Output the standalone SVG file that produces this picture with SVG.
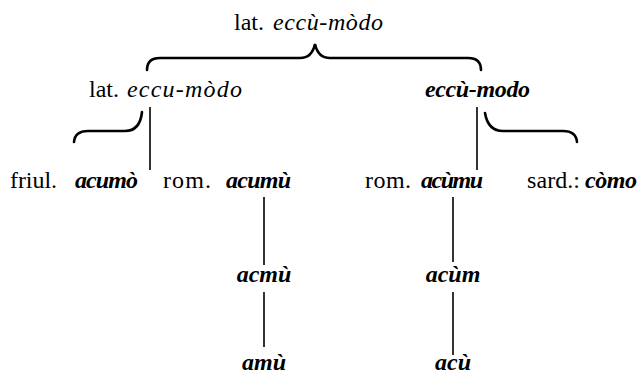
<svg xmlns="http://www.w3.org/2000/svg" width="638" height="376" viewBox="0 0 638 376">
<style>
.t{font-family:"Liberation Serif","Times New Roman",serif;font-size:24px;fill:#000}
.i{font-style:italic;font-weight:bold}
.il{font-style:italic}
.br{fill:none;stroke:#000;stroke-width:2.6;stroke-linecap:round}
.ln{fill:none;stroke:#000;stroke-width:1.6}
</style>
<rect width="638" height="376" fill="#fff"/>
<g id="connectors">
<path class="br" d="M147,70 Q147,58 160,58 L300,58 Q312,58 315,44 Q318,58 330,58 L468,58 Q481,58 481,70"/>
<path class="br" d="M142,112 Q140,131 125,131 L88,131 Q75,131 74,142"/>
<path class="br" d="M485,113 Q488,131 503,131 L563,131 Q576,131 577,142"/>
<line class="ln" x1="150" y1="107" x2="150" y2="170"/>
<line class="ln" x1="477" y1="107" x2="477" y2="170"/>
<line class="ln" x1="264" y1="197" x2="264" y2="265"/>
<line class="ln" x1="264" y1="292" x2="264" y2="347"/>
<line class="ln" x1="453" y1="197" x2="453" y2="262"/>
<line class="ln" x1="453" y1="292" x2="453" y2="355"/>
</g>
<g class="t">
<g id="n-top"><text x="234" y="30">lat.</text><text class="il" x="273" y="30" textLength="110">eccù-mòdo</text></g>
<g id="n-lat"><text x="89" y="97">lat.</text><text class="il" x="127" y="97" textLength="115">eccu-mòdo</text></g>
<g id="n-ecc"><text class="i" x="425" y="97" textLength="105">eccù-modo</text></g>
<g id="n-friul"><text x="10" y="188" textLength="47">friul.</text><text class="i" x="75" y="188" textLength="63">acumò</text></g>
<g id="n-rom1"><text x="163" y="188" textLength="48">rom.</text><text class="i" x="226" y="188" textLength="65">acumù</text></g>
<g id="n-rom2"><text x="365" y="188" textLength="46">rom.</text><text class="i" x="421" y="188" textLength="62">acùmu</text></g>
<g id="n-sard"><text x="527" y="188" textLength="53">sard.:</text><text class="i" x="585" y="188" textLength="52">còmo</text></g>
<g id="n-acmu"><text class="i" x="264" y="282" text-anchor="middle">acmù</text></g>
<g id="n-amu"><text class="i" x="264" y="370" text-anchor="middle">amù</text></g>
<g id="n-acum"><text class="i" x="453" y="282" text-anchor="middle">acùm</text></g>
<g id="n-acu"><text class="i" x="453" y="370" text-anchor="middle">acù</text></g>
</g>
</svg>
